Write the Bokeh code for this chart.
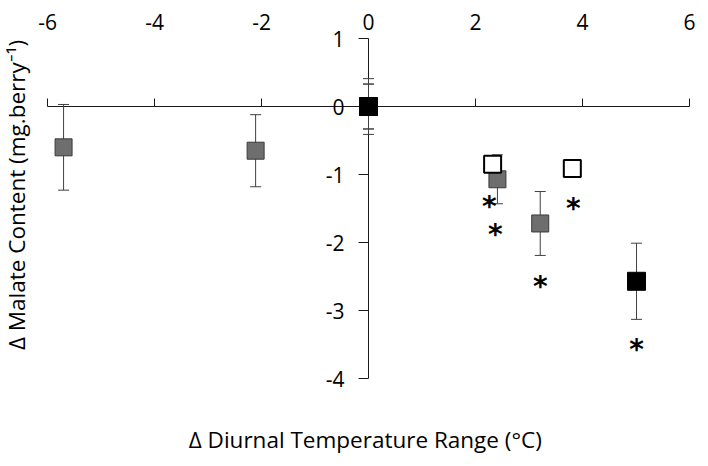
import math
from bokeh.plotting import figure
from bokeh.models import (Range1d, LinearAxis, FixedTicker, Whisker, TeeHead,
                          ColumnDataSource, Label)
from bokeh.core.properties import value
from bokeh.embed import file_html
from bokeh.resources import INLINE

# ---- data ----
gray_x = [-5.70, -2.11, 0.0, 2.41, 3.21]
gray_y = [-0.60, -0.65, 0.0, -1.07, -1.72]
gray_err = [0.63, 0.53, 0.41, 0.36, 0.47]

white_x = [0.0, 2.32, 3.81]
white_y = [0.0, -0.85, -0.91]
white_err = [0.33, 0.12, 0.12]

black_x = [0.0, 5.01]
black_y = [0.0, -2.57]
black_err = [0.33, 0.56]

star_x = [2.26, 2.37, 3.21, 3.83, 5.01]
star_y = [-1.37, -1.78, -2.54, -1.40, -3.47]

x_ticks = [-6, -4, -2, 0, 2, 4, 6]
y_ticks = [-4, -3, -2, -1, 0, 1]

x_title = "Δ Diurnal Temperature Range (°C)"
y_title = "Δ Malate Content (mg.berry⁻¹)"

FONT = "Open Sans"
FS = "21px"
TFS = "22.5px"

# frame covers the whole canvas; ranges chosen so that axes sit where they should
p = figure(width=700, height=458, output_backend="svg", toolbar_location=None,
           x_range=Range1d(-6.879, 6.206), y_range=Range1d(-5.176, 1.559),
           min_border=0)
p.outline_line_color = None
p.xgrid.visible = False
p.ygrid.visible = False

# x axis line through y=0, ticks pointing up, no labels
xa = p.xaxis[0]
xa.fixed_location = 0
xa.bounds = (-6, 6)
xa.ticker = FixedTicker(ticks=x_ticks)
xa.major_tick_in = 8
xa.major_tick_out = 0
xa.minor_tick_line_color = None
xa.major_label_overrides = {t: "" for t in x_ticks}
xa.axis_line_color = "#1a1a1a"
xa.major_tick_line_color = "#1a1a1a"

# y axis line through x=0
ya = p.yaxis[0]
ya.fixed_location = 0
ya.bounds = (-4, 1)
ya.ticker = FixedTicker(ticks=y_ticks)
ya.major_tick_in = 0
ya.major_tick_out = 10
ya.minor_tick_line_color = None
ya.major_label_standoff = 14
ya.major_label_overrides = {t: str(t) for t in y_ticks}
ya.major_label_text_font = FONT
ya.major_label_text_font_size = FS
ya.major_label_text_color = "black"
ya.axis_line_color = "#1a1a1a"
ya.major_tick_line_color = "#1a1a1a"

# labels along the top
top = LinearAxis(ticker=FixedTicker(ticks=x_ticks), fixed_location=1.13)
top.axis_line_color = None
top.major_tick_line_color = None
top.minor_tick_line_color = None
top.major_tick_in = 0
top.major_tick_out = 0
top.major_label_standoff = 0
top.major_label_overrides = {t: str(t) for t in x_ticks}
top.major_label_text_font = FONT
top.major_label_text_font_size = FS
top.major_label_text_color = "black"
p.add_layout(top, "above")

# error bars
def add_err(xs, ys, es):
    src = ColumnDataSource(dict(x=xs, lo=[a - b for a, b in zip(ys, es)],
                                hi=[a + b for a, b in zip(ys, es)]))
    w = Whisker(source=src, base="x", lower="lo", upper="hi",
                line_color="#404040", line_width=1,
                upper_head=TeeHead(size=11, line_color="#404040", line_width=1),
                lower_head=TeeHead(size=11, line_color="#404040", line_width=1),
                level="guide")
    p.add_layout(w)

add_err(gray_x, gray_y, gray_err)
add_err(white_x, white_y, white_err)
add_err(black_x, black_y, black_err)

r1 = p.scatter(gray_x, gray_y, marker="square", size=17, fill_color="#6e6e6e",
               line_color="#3a3a3a", line_width=1)
r2 = p.scatter(white_x, white_y, marker="square", size=17, fill_color="white",
               line_color="black", line_width=2)
r3 = p.scatter(black_x, black_y, marker="square", size=18, fill_color="black",
               line_color="black", line_width=1)
for r in (r1, r2, r3):
    r.level = "annotation"

t = p.text(star_x, star_y, text=["*"] * len(star_x), text_font=value("DejaVu Sans"),
           text_font_style="bold", text_font_size="28px", text_align="center",
           text_baseline="middle", y_offset=7, text_color="black")
t.level = "annotation"

p.add_layout(Label(x=-0.06, y=-4.9, text=x_title, text_font=FONT,
                   text_font_size=TFS, text_align="center",
                   text_baseline="middle", text_color="black"))
p.add_layout(Label(x=-6.58, y=-1.30, text=y_title, text_font=FONT,
                   text_font_size=TFS, text_align="center", angle=math.pi / 2,
                   text_baseline="middle", text_color="black"))

open("out.html", "w").write(file_html(p, INLINE))
